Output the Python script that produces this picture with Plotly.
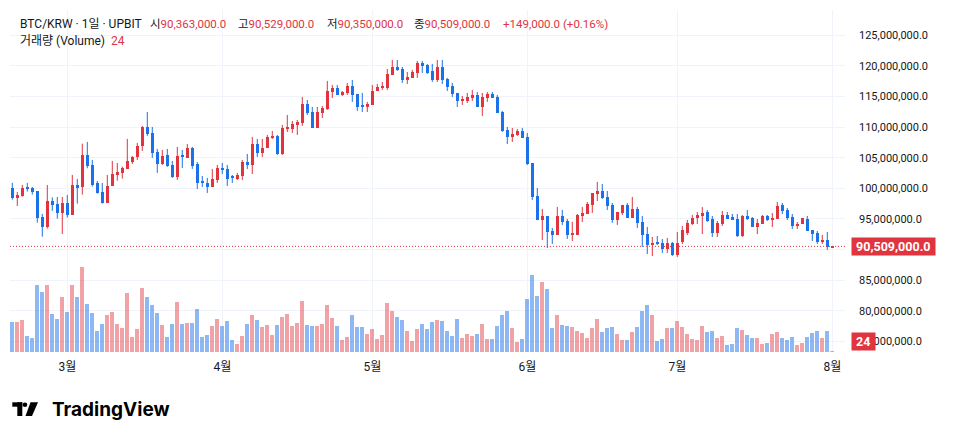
import plotly.graph_objects as go
import pandas as pd

# Daily candles BTC/KRW (UPBIT), prices in millions of KRW
opens = [
    100.05, 98.47, 98.80, 100.05, 100.00, 99.56, 95.32, 93.74, 97.93, 97.44,
    96.02, 97.60, 95.70, 100.54, 100.27, 105.45, 103.81, 100.87, 99.40, 97.66,
    100.38, 102.18, 102.51, 103.16, 104.30, 105.12, 106.92, 110.02, 109.04, 105.94,
    103.98, 105.45, 103.81, 101.85, 105.28, 104.96, 106.59, 103.98, 101.03, 100.87,
    100.22, 101.36, 103.32, 103.16, 101.85, 101.53, 102.02, 104.30, 103.81, 107.24,
    105.77, 106.59, 108.22, 108.55, 105.61, 109.69, 109.69, 110.35, 110.68, 113.78,
    112.47, 109.86, 112.31, 112.96, 115.74, 116.39, 115.25, 115.58, 116.72, 115.41,
    113.45, 113.29, 113.62, 115.90, 116.39, 116.39, 118.52, 119.83, 119.50, 117.70,
    118.03, 118.85, 120.48, 120.15, 119.17, 117.70, 119.83, 117.87, 116.72, 115.58,
    114.27, 114.27, 114.76, 115.25, 113.29, 114.76, 115.41, 114.92, 112.47, 109.53,
    108.39, 108.71, 109.37, 108.39, 104.14, 98.75, 94.83, 95.48, 93.03, 92.37,
    95.48, 94.66, 92.37, 92.37, 95.48, 95.81, 97.28, 99.07, 99.56, 98.58,
    97.28, 94.83, 95.97, 97.28, 95.15, 96.62, 94.50, 92.53, 90.74, 91.06,
    91.06, 90.08, 91.06, 89.10, 91.23, 92.70, 94.17, 95.15, 95.47, 96.13,
    94.98, 92.70, 94.17, 95.64, 95.31, 94.98, 92.21, 95.47, 95.15, 93.67,
    94.17, 95.47, 94.82, 95.00, 97.27, 96.45, 95.31, 93.84, 94.17, 94.98,
    93.18, 92.70, 91.23, 91.56, 90.363,
]
highs = [
    100.87, 99.40, 100.54, 100.87, 100.22, 99.56, 95.81, 100.54, 98.53, 98.58,
    98.58, 98.91, 102.18, 101.53, 107.30, 107.57, 104.63, 101.20, 100.87, 102.18,
    104.47, 104.14, 103.54, 108.06, 105.28, 107.41, 110.19, 112.47, 110.02, 106.43,
    106.26, 106.43, 104.47, 106.75, 106.26, 107.24, 106.75, 104.30, 102.02, 101.69,
    103.16, 103.81, 104.14, 103.81, 102.18, 102.51, 104.63, 105.61, 108.39, 108.06,
    108.06, 108.71, 109.37, 108.71, 110.35, 111.98, 111.00, 111.17, 114.92, 114.43,
    113.29, 113.29, 113.45, 117.54, 116.88, 116.88, 115.90, 117.21, 117.70, 115.41,
    115.58, 114.11, 116.88, 117.05, 117.38, 119.50, 120.97, 120.97, 119.83, 119.01,
    119.34, 120.81, 120.81, 120.32, 120.32, 120.97, 120.97, 118.03, 117.21, 115.58,
    115.09, 115.58, 116.07, 115.74, 115.58, 115.74, 115.74, 115.25, 112.64, 110.02,
    109.86, 109.69, 109.86, 109.04, 104.14, 100.05, 96.62, 95.48, 93.52, 96.95,
    96.46, 94.99, 94.50, 95.81, 96.95, 97.77, 99.24, 101.03, 100.71, 99.56,
    97.60, 96.13, 97.28, 97.60, 98.58, 96.95, 95.48, 93.68, 92.04, 92.21,
    91.72, 91.88, 91.23, 92.86, 93.84, 94.82, 95.64, 96.13, 96.94, 96.45,
    95.47, 94.66, 96.29, 96.13, 95.80, 95.80, 95.64, 96.45, 95.31, 94.98,
    95.64, 95.64, 95.96, 97.76, 97.60, 96.78, 95.80, 94.49, 95.15, 95.47,
    93.18, 93.02, 92.37, 92.86, 90.529,
]
lows = [
    98.15, 97.11, 98.64, 99.46, 98.97, 94.39, 92.10, 93.41, 96.30, 95.04,
    92.54, 95.21, 95.70, 97.49, 98.97, 103.27, 100.27, 99.13, 97.49, 97.66,
    100.38, 101.25, 101.58, 103.16, 103.98, 104.63, 106.10, 108.55, 104.96, 102.51,
    103.81, 103.49, 101.69, 101.36, 103.32, 104.96, 103.16, 99.89, 100.22, 99.24,
    100.22, 100.87, 102.34, 100.38, 100.87, 101.36, 101.36, 103.16, 102.34, 105.12,
    105.12, 106.59, 108.06, 105.45, 105.45, 109.20, 109.04, 108.71, 110.19, 111.98,
    109.86, 109.86, 111.49, 112.80, 114.76, 115.25, 115.09, 115.25, 114.11, 112.64,
    112.47, 112.47, 113.62, 115.90, 116.07, 116.07, 118.52, 119.17, 117.21, 117.05,
    118.03, 118.03, 118.85, 118.68, 117.38, 117.38, 117.05, 115.90, 114.92, 113.29,
    113.62, 113.94, 114.27, 113.29, 111.82, 114.11, 114.76, 112.31, 109.20, 107.24,
    107.57, 108.55, 108.22, 103.81, 98.09, 94.83, 91.56, 90.25, 90.90, 92.37,
    94.01, 91.72, 91.39, 92.37, 94.50, 95.81, 95.97, 97.93, 98.26, 96.46,
    94.34, 94.01, 95.64, 95.15, 95.15, 93.52, 90.41, 89.26, 88.94, 90.74,
    89.43, 89.43, 88.94, 88.78, 90.90, 92.37, 94.00, 94.17, 92.53, 94.50,
    92.04, 92.04, 93.84, 94.98, 94.82, 92.04, 92.04, 94.82, 93.67, 92.53,
    94.17, 94.66, 93.67, 95.00, 95.80, 94.82, 93.35, 93.35, 94.17, 93.02,
    91.39, 90.90, 90.90, 89.92, 90.350,
]
closes = [
    98.42, 98.91, 100.05, 99.89, 99.46, 95.21, 93.74, 97.93, 97.33, 96.02,
    97.60, 95.70, 100.54, 100.11, 105.45, 103.70, 100.60, 99.29, 97.66, 100.38,
    102.34, 102.67, 103.32, 104.47, 105.12, 106.92, 110.02, 108.88, 105.77, 103.98,
    105.28, 103.65, 101.85, 105.28, 105.12, 106.59, 103.65, 100.87, 100.87, 100.22,
    101.53, 103.32, 103.00, 101.53, 101.69, 102.18, 104.30, 103.81, 107.24, 105.77,
    106.59, 108.39, 108.55, 105.61, 109.86, 109.86, 110.51, 110.84, 113.78, 112.31,
    109.86, 112.47, 113.13, 115.90, 116.39, 115.25, 115.74, 116.72, 115.25, 113.29,
    113.29, 113.78, 115.90, 116.56, 116.56, 118.68, 119.83, 119.34, 117.70, 118.19,
    119.01, 120.48, 119.99, 118.85, 117.70, 119.83, 117.70, 116.56, 115.41, 114.27,
    114.43, 114.92, 115.25, 113.29, 114.92, 115.41, 114.76, 112.31, 109.37, 108.39,
    108.88, 109.37, 108.22, 103.98, 98.58, 94.83, 95.48, 92.87, 92.37, 95.48,
    94.50, 92.37, 92.54, 95.64, 95.97, 97.44, 99.24, 99.56, 98.42, 97.11,
    94.83, 96.13, 97.28, 95.15, 96.62, 94.34, 92.37, 90.74, 91.06, 90.90,
    90.08, 91.06, 89.10, 91.06, 93.18, 94.33, 95.15, 95.64, 95.96, 94.66,
    92.70, 94.33, 95.64, 94.98, 94.82, 92.21, 95.47, 94.98, 93.67, 94.33,
    95.47, 94.82, 95.15, 97.11, 96.29, 95.15, 93.84, 94.17, 95.15, 93.02,
    92.53, 91.23, 91.56, 90.36, 90.509,
]
volumes = [
    890, 890, 950, 470, 410, 2000, 1790, 2000, 1130, 980,
    1640, 1190, 2000, 1640, 2540, 1430, 1160, 620, 830, 1100,
    1190, 830, 710, 1760, 440, 680, 1910, 1640, 1400, 1160,
    800, 440, 830, 1490, 830, 860, 860, 1280, 440, 500,
    770, 980, 770, 920, 350, 230, 470, 830, 1100, 950,
    740, 800, 500, 800, 1040, 1130, 770, 860, 1520, 800,
    770, 770, 830, 1400, 1010, 770, 350, 440, 1100, 740,
    740, 530, 680, 380, 500, 1460, 1220, 1040, 950, 620,
    320, 680, 830, 680, 890, 950, 920, 620, 470, 980,
    410, 530, 470, 530, 830, 380, 380, 770, 1100, 1220,
    710, 290, 380, 1580, 2300, 1670, 2090, 1880, 710, 1100,
    800, 770, 740, 620, 560, 410, 710, 980, 590, 710,
    740, 530, 350, 350, 590, 740, 1220, 1400, 1100, 320,
    380, 710, 710, 920, 740, 530, 380, 350, 770, 590,
    620, 410, 470, 200, 230, 710, 650, 500, 410, 410,
    230, 260, 530, 590, 410, 350, 440, 200, 260, 440,
    560, 620, 410, 620, 24,
]
dates = pd.date_range("2025-02-18", periods=len(opens), freq="D")

month_ticks = ["2025-03-01", "2025-04-01", "2025-05-01", "2025-06-01", "2025-07-01", "2025-08-01"]
month_labels = ["3월", "4월", "5월", "6월", "7월", "8월"]
price_ticks = [75e6, 80e6, 85e6, 90e6, 95e6, 100e6, 105e6, 110e6, 115e6, 120e6, 125e6]

UP = "#e0343f"
DOWN = "#1b72ea"
UP_VOL = "rgba(224, 52, 63, 0.46)"
DOWN_VOL = "rgba(27, 114, 234, 0.5)"
TEXT = "#131722"
GRID = "#f0f3fa"
FONT = "Roboto, 'Noto Sans CJK KR', sans-serif"
DAY_MS = 86400000

up = [c >= o for o, c in zip(opens, closes)]

fig = go.Figure()

# volume (bottom layer, own hidden axis)
fig.add_trace(go.Bar(
    x=dates, y=volumes, yaxis="y", width=0.74 * DAY_MS,
    marker=dict(color=[UP_VOL if u else DOWN_VOL for u in up], line=dict(width=0)),
    hoverinfo="skip", showlegend=False,
))

# wicks
for flag, col in ((True, UP), (False, DOWN)):
    wx, wy = [], []
    for d, h, l, u in zip(dates, highs, lows, up):
        if u == flag:
            wx += [d, d, None]
            wy += [l * 1e6, h * 1e6, None]
    fig.add_trace(go.Scatter(
        x=wx, y=wy, yaxis="y2", mode="lines",
        line=dict(color=col, width=1), hoverinfo="skip", showlegend=False,
    ))

# bodies
fig.add_trace(go.Bar(
    x=dates,
    base=[min(o, c) * 1e6 for o, c in zip(opens, closes)],
    y=[max(abs(c - o), 0.17) * 1e6 for o, c in zip(opens, closes)],
    yaxis="y2", width=0.66 * DAY_MS,
    marker=dict(color=[UP if u else DOWN for u in up], line=dict(width=0)),
    hoverinfo="skip", showlegend=False,
))

last_close = closes[-1] * 1e6
fig.add_shape(type="line", xref="paper", x0=0, x1=1, yref="y2", y0=last_close, y1=last_close,
              line=dict(color=UP, width=1, dash="1px,2px"))

# header (legend line), each field placed on its own
sp = "\u00a0"
def red(v):
    return f"<span style='color:{UP}'>{v}</span>"

chg = (closes[-1] - closes[-2]) * 1e6
pct = chg / (closes[-2] * 1e6) * 100
header_items = [
    (0.0096, f"BTC/KRW{sp}·{sp}1일{sp}·{sp}UPBIT"),
    (0.1653, "시" + red(f"{opens[-1] * 1e6:,.1f}")),
    (0.2707, "고" + red(f"{highs[-1] * 1e6:,.1f}")),
    (0.3772, "저" + red(f"{lows[-1] * 1e6:,.1f}")),
    (0.4814, "종" + red(f"{closes[-1] * 1e6:,.1f}")),
    (0.5880, red(f"{chg:+,.1f}{sp}({pct:+.2f}%)")),
]
line2 = f"거래량{sp}(Volume){sp}{sp}{red(f'{volumes[-1]}')}"

# price axis labels; the 90M label sits under the last-price tag
price_labels = ["" if v == 90e6 else f"{v:,.1f}" for v in price_ticks]

annotations = [
    dict(text=t, xref="paper", yref="paper", x=xp, y=0.959, xanchor="left", yanchor="middle",
         showarrow=False, font=dict(size=12 if xp < 0.1 else 11.5, color=TEXT, family=FONT))
    for xp, t in header_items
]
annotations += [
    dict(text=line2, xref="paper", yref="paper", x=0.0096, y=0.909, xanchor="left", yanchor="middle",
         showarrow=False, font=dict(size=12, color=TEXT, family=FONT)),
    # last price tag
    dict(text=f"{sp}<b>{last_close:,.1f}</b>{sp}", xref="paper", yref="y2", x=1, y=last_close,
         xanchor="left", yanchor="middle", xshift=6, showarrow=False, bgcolor=UP, borderpad=1,
         font=dict(size=12.5, color="white", family=FONT)),
    # last volume tag
    dict(text=f"{sp}<b>{volumes[-1]}</b>{sp}", xref="paper", yref="y", x=1, y=volumes[-1],
         xanchor="left", yanchor="bottom", xshift=6, showarrow=False, bgcolor=UP, borderpad=1,
         font=dict(size=12.5, color="white", family=FONT)),
    # TradingView wordmark
    dict(text="<b>TradingView</b>", xref="paper", yref="paper", x=0.0475, y=-0.167,
         xanchor="left", yanchor="middle", showarrow=False,
         font=dict(size=19, color="#000000", family="Inter, Roboto, sans-serif")),
]

shapes = [
    # widget frame
    dict(type="rect", xref="paper", yref="paper", x0=-0.0006, x1=1.1174, y0=-0.0819, y1=1.0015,
         line=dict(color="#e0e3eb", width=1), fillcolor="rgba(0,0,0,0)", layer="below"),
    # logo mark
    dict(type="rect", xref="paper", yref="paper", x0=0.00275, x1=0.01473, y0=-0.1599, y1=-0.1471,
         line=dict(width=0), fillcolor="#000000"),
    dict(type="rect", xref="paper", yref="paper", x0=0.00874, x1=0.01473, y0=-0.1871, y1=-0.1471,
         line=dict(width=0), fillcolor="#000000"),
    dict(type="circle", xref="paper", yref="paper", x0=0.01521, x1=0.02072, y0=-0.1608, y1=-0.1474,
         line=dict(width=0), fillcolor="#000000"),
    dict(type="path", xref="paper", yref="paper",
         path="M 0.02455 -0.1471 L 0.03353 -0.1471 L 0.02635 -0.1871 L 0.01856 -0.1871 Z",
         line=dict(width=0), fillcolor="#000000"),
]

# the page body adds an 8px offset, so the figure is drawn 8px smaller with tighter top/left margins
fig.update_layout(
    width=946, height=432,
    margin=dict(l=2, r=109, t=2, b=88),
    paper_bgcolor="white", plot_bgcolor="white",
    barmode="overlay", bargap=0,
    showlegend=False,
    font=dict(family=FONT, size=12, color=TEXT),
    xaxis=dict(
        type="date", range=["2025-02-17 13:00", "2025-08-03 13:00"],
        tickvals=month_ticks, ticktext=month_labels,
        showgrid=True, gridcolor=GRID, gridwidth=1,
        zeroline=False, showline=False, ticks="", ticklabelstandoff=6,
        tickfont=dict(size=12, color=TEXT, family=FONT),
        rangeslider=dict(visible=False), fixedrange=True,
    ),
    yaxis=dict(range=[0, 10260], visible=False, showgrid=False, fixedrange=True),
    yaxis2=dict(
        overlaying="y", side="right", range=[73.25e6, 129.13e6],
        tickvals=price_ticks, ticktext=price_labels,
        showgrid=True, gridcolor=GRID, gridwidth=1,
        zeroline=False, showline=False, ticks="", ticklabelstandoff=13,
        tickfont=dict(size=11, color=TEXT, family=FONT), fixedrange=True,
    ),
    annotations=annotations,
    shapes=shapes,
)

fig.write_html("out.html")
